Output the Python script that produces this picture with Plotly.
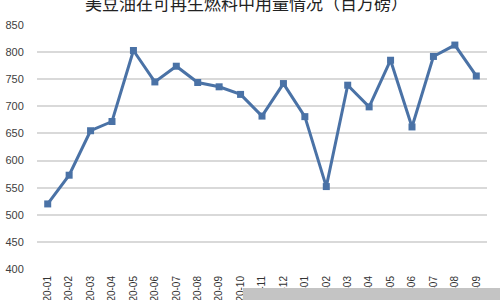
import plotly.graph_objects as go

months = ["2020-01", "2020-02", "2020-03", "2020-04", "2020-05", "2020-06", "2020-07",
          "2020-08", "2020-09", "2020-10", "2020-11", "2020-12", "2021-01", "2021-02",
          "2021-03", "2021-04", "2021-05", "2021-06", "2021-07", "2021-08", "2021-09"]
usage = [520, 573, 655, 672, 803, 745, 774, 744, 736, 722, 682, 742, 681, 552,
         739, 699, 785, 662, 792, 813, 756]
title_text = "美豆油在可再生燃料中用量情况（百万磅）"

fig = go.Figure()
fig.add_trace(go.Scatter(
    x=months, y=usage, mode="lines+markers",
    line=dict(color="#4a72a6", width=3),
    marker=dict(symbol="square", size=7, color="#4a72a6"),
))

fig.add_annotation(
    text=title_text, xref="paper", yref="paper", x=0.465, y=(269 - 2) / 244,
    xanchor="center", yanchor="middle", showarrow=False,
    font=dict(family="Noto Sans CJK SC", size=17, color="#222222"),
)

fig.add_shape(type="rect", xref="paper", yref="paper",
              x0=(243 - 37) / 450, x1=(505 - 37) / 450,
              y0=(269 - 288) / 244, y1=(269 - 305) / 244,
              fillcolor="#c4c4c4", line=dict(width=0), layer="above")

fig.update_layout(
    width=500, height=300,
    margin=dict(l=37, r=13, t=25, b=31, autoexpand=False),
    paper_bgcolor="white", plot_bgcolor="white",
    showlegend=False,
    font=dict(family="Liberation Sans", size=11, color="#404040"),
)
fig.update_xaxes(
    type="category", range=[-0.5, len(months) - 0.5],
    tickangle=-90, showgrid=False, showline=False, zeroline=False,
    automargin=False,
    tickfont=dict(size=10, color="#333333"),
    ticks="outside", ticklen=2, tickcolor="rgba(0,0,0,0)",
)
fig.update_yaxes(
    range=[400, 850], dtick=50, showgrid=True, gridcolor="#d9d9d9", gridwidth=1.5,
    zeroline=False, showline=False, automargin=False,
    tickfont=dict(size=11, color="#404040"),
    ticks="outside", ticklen=10, tickcolor="rgba(0,0,0,0)",
)

fig.write_html("out.html")
